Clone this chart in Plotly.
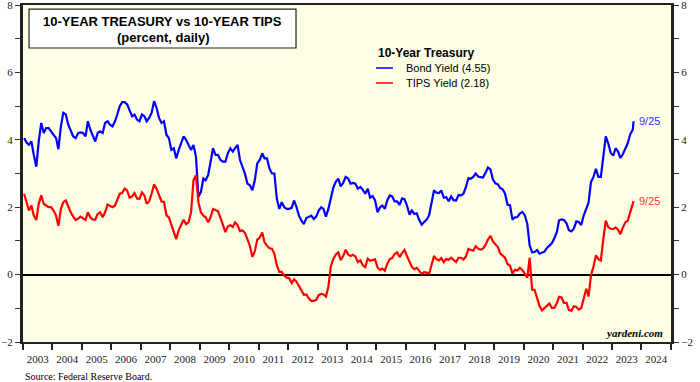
import pandas as pd
import plotly.graph_objects as go

# ---- data (monthly readings, mid-month), percent ----
bond_yield = [
    4.05, 3.92, 3.85, 3.95, 3.55, 3.20, 3.95, 4.50, 4.20, 4.35, 4.35, 4.25,   # 2003
    4.15, 4.05, 3.72, 4.40, 4.80, 4.75, 4.45, 4.25, 4.10, 4.05, 4.20, 4.22,   # 2004
    4.20, 4.10, 4.55, 4.30, 4.10, 3.95, 4.20, 4.25, 4.20, 4.50, 4.55, 4.45,   # 2005
    4.40, 4.55, 4.75, 5.00, 5.12, 5.12, 5.05, 4.85, 4.70, 4.75, 4.60, 4.55,   # 2006
    4.75, 4.70, 4.55, 4.65, 4.80, 5.15, 4.95, 4.65, 4.50, 4.55, 4.15, 4.05,   # 2007
    3.70, 3.75, 3.45, 3.70, 3.90, 4.10, 4.00, 3.85, 3.70, 3.85, 3.50, 2.30,   # 2008
    2.45, 2.85, 2.80, 2.95, 3.30, 3.75, 3.55, 3.55, 3.40, 3.35, 3.35, 3.60,   # 2009
    3.75, 3.65, 3.75, 3.85, 3.40, 3.20, 3.00, 2.70, 2.65, 2.50, 2.80, 3.30,   # 2010
    3.40, 3.60, 3.45, 3.45, 3.15, 3.00, 3.00, 2.25, 1.95, 2.15, 2.00, 1.95,   # 2011
    1.95, 1.98, 2.20, 2.00, 1.75, 1.60, 1.50, 1.68, 1.72, 1.75, 1.65, 1.72,   # 2012
    1.90, 2.00, 1.95, 1.72, 1.95, 2.30, 2.58, 2.75, 2.85, 2.62, 2.72, 2.90,   # 2013
    2.85, 2.70, 2.72, 2.70, 2.55, 2.60, 2.52, 2.40, 2.55, 2.28, 2.33, 2.20,   # 2014
    1.85, 2.00, 2.05, 1.95, 2.20, 2.35, 2.32, 2.17, 2.17, 2.07, 2.26, 2.24,   # 2015
    2.05, 1.78, 1.90, 1.80, 1.82, 1.62, 1.48, 1.56, 1.63, 1.76, 2.15, 2.50,   # 2016
    2.43, 2.42, 2.50, 2.28, 2.30, 2.18, 2.32, 2.21, 2.20, 2.36, 2.35, 2.40,   # 2017
    2.60, 2.86, 2.84, 2.90, 3.00, 2.91, 2.89, 2.88, 3.02, 3.18, 3.12, 2.83,   # 2018
    2.71, 2.68, 2.57, 2.53, 2.40, 2.07, 2.06, 1.63, 1.70, 1.71, 1.81, 1.86,   # 2019
    1.76, 1.50, 0.87, 0.66, 0.67, 0.73, 0.62, 0.65, 0.68, 0.79, 0.87, 0.93,   # 2020
    1.08, 1.26, 1.61, 1.64, 1.62, 1.52, 1.32, 1.28, 1.37, 1.58, 1.56, 1.47,   # 2021
    1.76, 1.93, 2.13, 2.75, 2.90, 3.14, 2.90, 2.90, 3.52, 4.10, 3.89, 3.62,   # 2022
    3.53, 3.75, 3.66, 3.46, 3.57, 3.75, 3.90, 4.17, 4.30,                     # 2023
]
tips_yield = [
    2.40, 2.10, 1.90, 2.05, 1.75, 1.62, 2.10, 2.35, 2.10, 2.05, 2.00, 2.00,   # 2003
    1.90, 1.75, 1.45, 1.95, 2.15, 2.20, 2.00, 1.85, 1.72, 1.62, 1.66, 1.72,   # 2004
    1.67, 1.62, 1.85, 1.70, 1.63, 1.63, 1.80, 1.85, 1.70, 1.85, 2.08, 2.05,   # 2005
    2.00, 2.05, 2.20, 2.40, 2.42, 2.55, 2.50, 2.28, 2.32, 2.42, 2.26, 2.25,   # 2006
    2.44, 2.35, 2.10, 2.18, 2.40, 2.68, 2.55, 2.35, 2.17, 2.16, 1.76, 1.70,   # 2007
    1.47, 1.25, 1.05, 1.32, 1.50, 1.63, 1.50, 1.55, 1.85, 2.80, 2.95, 2.15,   # 2008
    1.85, 1.75, 1.70, 1.55, 1.70, 1.95, 1.92, 1.88, 1.68, 1.45, 1.26, 1.43,   # 2009
    1.47, 1.41, 1.55, 1.47, 1.29, 1.31, 1.24, 1.05, 0.85, 0.53, 0.69, 1.04,   # 2010
    1.10, 1.25, 0.96, 0.86, 0.78, 0.77, 0.62, 0.27, 0.08, 0.08, -0.03, -0.09, # 2011
    -0.11, -0.25, -0.14, -0.21, -0.34, -0.50, -0.60, -0.59, -0.71, -0.78, -0.78, -0.75,  # 2012
    -0.61, -0.57, -0.59, -0.65, -0.36, 0.25, 0.46, 0.60, 0.66, 0.43, 0.55, 0.74,  # 2013
    0.60, 0.55, 0.59, 0.54, 0.37, 0.42, 0.28, 0.22, 0.47, 0.41, 0.44, 0.45,   # 2014
    0.21, 0.14, 0.18, 0.11, 0.32, 0.46, 0.49, 0.61, 0.66, 0.52, 0.64, 0.73,   # 2015
    0.55, 0.38, 0.23, 0.16, 0.20, 0.11, 0.02, 0.07, 0.06, 0.02, 0.33, 0.55,   # 2016
    0.46, 0.42, 0.49, 0.37, 0.46, 0.44, 0.50, 0.43, 0.37, 0.50, 0.50, 0.45,   # 2017
    0.54, 0.76, 0.73, 0.71, 0.84, 0.77, 0.74, 0.77, 0.88, 1.04, 1.15, 0.99,   # 2018
    0.90, 0.82, 0.63, 0.57, 0.50, 0.31, 0.27, 0.03, 0.14, 0.12, 0.20, 0.14,   # 2019
    0.03, -0.09, 0.50, -0.45, -0.45, -0.68, -0.93, -1.06, -0.99, -0.95, -0.86, -0.99,  # 2020
    -0.99, -0.85, -0.66, -0.68, -0.84, -0.84, -1.05, -1.07, -0.94, -0.96, -1.04, -0.99,  # 2021
    -0.71, -0.42, -0.65, -0.02, 0.23, 0.57, 0.46, 0.42, 1.06, 1.60, 1.41, 1.36,   # 2022
    1.35, 1.40, 1.33, 1.20, 1.40, 1.55, 1.60, 1.85, 2.05,                     # 2023
]
last_date = "2023-09-25"
bond_last = 4.55
tips_last = 2.18

dates = list(pd.date_range("2003-01-01", periods=len(bond_yield), freq="MS") + pd.Timedelta(days=14))
dates = [d.strftime("%Y-%m-%d") for d in dates] + [last_date]
bond_series = bond_yield + [bond_last]
tips_series = tips_yield + [tips_last]

BLUE = "#0000ff"
RED = "#ff0000"
SERIF = "Liberation Serif, Times New Roman, serif"
SANS = "Liberation Sans, Arial, sans-serif"

fig = go.Figure()
fig.add_trace(go.Scatter(x=dates, y=bond_series, mode="lines", line=dict(color=BLUE, width=2.2),
                         name="Bond Yield (4.55)", showlegend=False))
fig.add_trace(go.Scatter(x=dates, y=tips_series, mode="lines", line=dict(color=RED, width=2.2),
                         name="TIPS Yield (2.18)", showlegend=False))
fig.add_trace(go.Scatter(x=[dates[0]], y=[None], yaxis="y2", showlegend=False, hoverinfo="skip"))

yax = dict(range=[-2, 8], tickvals=[-2, 0, 2, 4, 6, 8], ticks="outside", ticklen=5, tickwidth=1,
           tickcolor="#333", showgrid=False, showline=True, linecolor="#222", linewidth=3,
           automargin=False, ticklabeloverflow="allow",
           tickfont=dict(family=SERIF, size=11, color="#222"),
           minor=dict(ticks="outside", dtick=1, tick0=-2, ticklen=5, tickwidth=1, tickcolor="#333"))

fig.update_layout(
    width=700, height=382,
    margin=dict(l=23, r=29, t=5, b=40),
    paper_bgcolor="white", plot_bgcolor="#FEFEE4",
    xaxis=dict(type="date", range=["2003-01-01", "2025-01-01"], dtick="M12", tick0="2003-01-01",
               tickformat="%Y", ticklabelmode="period", ticks="outside", ticklen=6, tickwidth=1.5,
               tickcolor="#222", showgrid=False, showline=True, linecolor="#222", linewidth=2,
               mirror=True, automargin=False, tickfont=dict(family=SERIF, size=11, color="#222")),
    yaxis=dict(**yax, side="left", zeroline=True, zerolinecolor="black", zerolinewidth=1.5),
    yaxis2=dict(**yax, side="right", overlaying="y", anchor="x", zeroline=False),
    showlegend=False,
)

# title box
fig.add_shape(type="rect", xref="paper", yref="paper", x0=0.0093, x1=0.4213, y0=0.8724, y1=0.988,
              fillcolor="white", line=dict(color="#222", width=1.2))
fig.add_annotation(xref="paper", yref="paper", x=0.2153, y=0.9496, text="<b>10-YEAR TREASURY vs 10-YEAR TIPS</b>",
                   showarrow=False, font=dict(family=SANS, size=13, color="black"), xanchor="center", yanchor="middle")
fig.add_annotation(xref="paper", yref="paper", x=0.2153, y=0.9050, text="<b>(percent, daily)</b>",
                   showarrow=False, font=dict(family=SANS, size=13, color="black"), xanchor="center", yanchor="middle")

# legend
fig.add_annotation(xref="paper", yref="paper", x=0.5448, y=0.8576, text="<b>10-Year Treasury</b>",
                   showarrow=False, font=dict(family=SANS, size=12, color="black"), xanchor="left", yanchor="middle")
for yy, col, lab in [(0.8131, BLUE, "Bond Yield (4.55)"), (0.7685, RED, "TIPS Yield (2.18)")]:
    fig.add_shape(type="line", xref="paper", yref="paper", x0=0.5448, x1=0.5710, y0=yy, y1=yy,
                  line=dict(color=col, width=1.5))
    fig.add_annotation(xref="paper", yref="paper", x=0.588, y=yy, text=lab, showarrow=False,
                       font=dict(family=SANS, size=11, color="black"), xanchor="left", yanchor="middle")

# end labels
fig.add_annotation(x=last_date, y=bond_last, text="9/25", showarrow=False, xanchor="left", yanchor="middle",
                   xshift=3, font=dict(family=SANS, size=11, color="#3333ff"))
fig.add_annotation(x=last_date, y=tips_last, text="9/25", showarrow=False, xanchor="left", yanchor="middle",
                   xshift=3, font=dict(family=SANS, size=11, color="#ff3333"))

fig.add_annotation(xref="paper", yref="paper", x=0.9907, y=0.0267, text="<b><i>yardeni.com</i></b>",
                   showarrow=False, xanchor="right", yanchor="middle", font=dict(family=SERIF, size=11, color="black"))
fig.add_annotation(xref="paper", yref="paper", x=0.0, y=-0.1009, text="Source: Federal Reserve Board.",
                   showarrow=False, xanchor="left", yanchor="middle", font=dict(family=SERIF, size=10, color="black"))

fig.write_html("out.html", config={"displayModeBar": False},
               post_script="document.body.style.margin='0';document.body.style.padding='0';")
